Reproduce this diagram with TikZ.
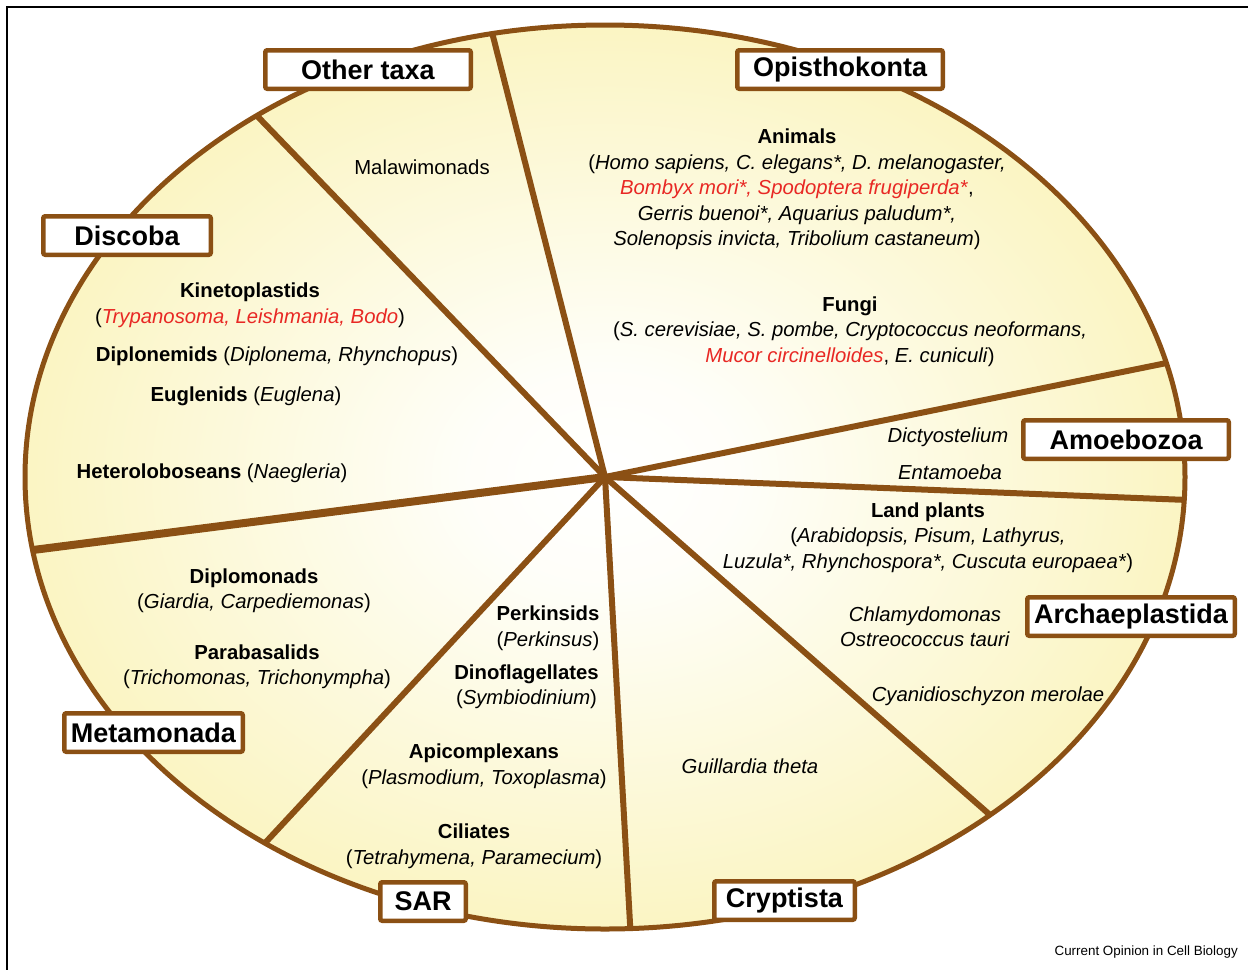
\documentclass[tikz,border=0pt]{standalone}
\usepackage{fontspec}
\setmainfont{Liberation Sans}
\usepackage{tikz}
\usetikzlibrary{positioning}
\definecolor{piebrown}{RGB}{139,80,20}
\definecolor{taxred}{RGB}{232,40,36}
\pgfdeclareradialshading{pieshade}{\pgfpoint{0bp}{0bp}}{rgb(0bp)=(1,1,1); rgb(6bp)=(0.998,0.997,0.975); rgb(25bp)=(0.983,0.96,0.765); rgb(50bp)=(0.983,0.96,0.765)}

\begin{document}
\begin{tikzpicture}[
    x=1pt, y=-1pt,
    taxon/.style={draw=piebrown, line width=4.5pt, fill=white, rounded corners=2pt, inner sep=0pt, minimum height=38.5pt, font=\fontsize{27}{30}\selectfont\bfseries},
    species/.style={align=center, inner sep=0pt, font=\fontsize{20.3}{25.5}\selectfont},
    spoke/.style={piebrown, line width=6pt}
]
    \useasboundingbox (0,0) rectangle (1248,970);

    % Frame
    \draw[line width=1.5pt] (1248,7) -- (7,7) -- (7,970);

    % Pie
    \coordinate (hub) at (605,477);
    \shade[shading=pieshade] (hub) ellipse [x radius=580pt, y radius=452pt];
    \foreach \a in {-101.2, -14.6, 2.9, 48.4, 87.5, 125.9, -126.9}
        \draw[spoke] (hub) -- ++(\a:580 and 452);
    \draw[spoke, line width=8pt] (hub) -- ++(170.7:580 and 452);
    \draw[piebrown, line width=5pt] (hub) ellipse [x radius=580pt, y radius=452pt];

    % Supergroups
    \node[taxon, minimum width=205.5pt] (other) at (368,69.5) {Other taxa};
    \node[taxon, minimum width=205.5pt] (opis) at (840,69.5) {Opisthokonta};
    \node[taxon, minimum width=167.5pt] (discoba) at (127,235.5) {Discoba};
    \node[taxon, minimum width=205.5pt] (amoebo) at (1126,439.5) {Amoebozoa};
    \node[taxon, minimum width=207.5pt] (archae) at (1131,616.5) {Archaeplastida};
    \node[taxon, minimum width=178.5pt] (metamo) at (153.5,732.5) {Metamonada};
    \node[taxon, minimum width=85.5pt] (sar) at (423,901.5) {SAR};
    \node[taxon, minimum width=140.5pt] (crypt) at (784.5,900.5) {Cryptista};

    % Other taxa
    \node[species] (malawi) at (422,167) {Malawimonads};

    % Opisthokonta
    \node[species] (animals) at (797,189.5) {\textbf{Animals}\\(\textit{Homo sapiens, C. elegans*, D. melanogaster,}\\\textcolor{taxred}{\textit{Bombyx mori*, Spodoptera frugiperda*}},\\\textit{Gerris buenoi*, Aquarius paludum*,}\\\textit{Solenopsis invicta, Tribolium castaneum})};
    \node[species] (fungi) at (850,331.5) {\textbf{Fungi}\\(\textit{S. cerevisiae, S. pombe, Cryptococcus neoformans,}\\\textcolor{taxred}{\textit{Mucor circinelloides}}, \textit{E. cuniculi})};

    % Amoebozoa
    \node[species] (dicty) at (948,437) {\textit{Dictyostelium}};
    \node[species] (entam) at (950,472) {\textit{Entamoeba}};

    % Archaeplastida
    \node[species] (plants) at (928,537.5) {\textbf{Land plants}\\(\textit{Arabidopsis, Pisum, Lathyrus,}\\\textit{Luzula*, Rhynchospora*, Cuscuta europaea*})};
    \node[species] (chlamy) at (925,626.5) {\textit{Chlamydomonas}\\\textit{Ostreococcus tauri}};
    \node[species] (cyanid) at (988,696) {\textit{Cyanidioschyzon merolae}};

    % Cryptista
    \node[species] (guill) at (750,766) {\textit{Guillardia theta}};

    % SAR
    \node[species] (perkin) at (548,628) {\textbf{Perkinsids}\\(\textit{Perkinsus})};
    \node[species] (dino) at (526.5,686.5) {\textbf{Dinoflagellates}\\(\textit{Symbiodinium})};
    \node[species] (apicom) at (484,766) {\textbf{Apicomplexans}\\(\textit{Plasmodium, Toxoplasma})};
    \node[species] (ciliat) at (474,846) {\textbf{Ciliates}\\(\textit{Tetrahymena, Paramecium})};

    % Metamonada
    \node[species] (diplomo) at (254,590.5) {\textbf{Diplomonads}\\(\textit{Giardia, Carpediemonas})};
    \node[species] (paraba) at (257,666.5) {\textbf{Parabasalids}\\(\textit{Trichomonas, Trichonympha})};

    % Discoba
    \node[species] (kineto) at (250,305) {\textbf{Kinetoplastids}\\(\textcolor{taxred}{\textit{Trypanosoma, Leishmania, Bodo}})};
    \node[species] (diplone) at (277,356) {\textbf{Diplonemids} (\textit{Diplonema, Rhynchopus})};
    \node[species] (euglen) at (246,396) {\textbf{Euglenids} (\textit{Euglena})};
    \node[species] (hetero) at (212,473) {\textbf{Heteroloboseans} (\textit{Naegleria})};

    % Source
    \node[font=\fontsize{13.4}{15}\selectfont, anchor=east, inner sep=0pt] (source) at (1238,952) {Current Opinion in Cell Biology};
\end{tikzpicture}
\end{document}
